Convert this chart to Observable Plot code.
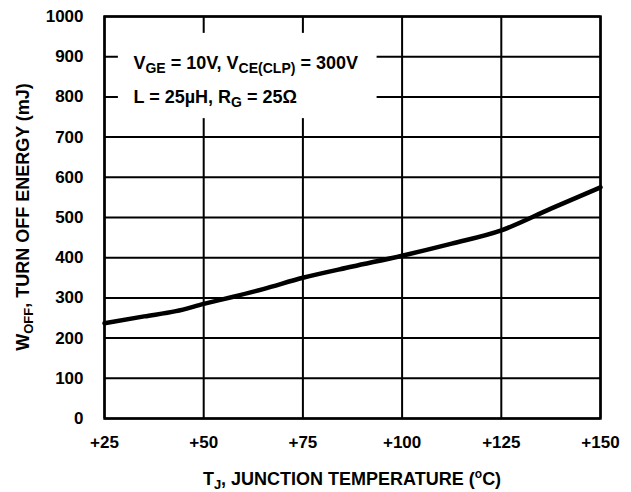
<!DOCTYPE html>
<html>
<head>
<meta charset="utf-8">
<script src="https://cdn.jsdelivr.net/npm/d3@7"></script>
<script src="https://cdn.jsdelivr.net/npm/@observablehq/plot@0.6"></script>
<style>
  html, body { margin: 0; padding: 0; background: #fff; }
</style>
</head>
<body>
<div id="chart"></div>
<script>
// Junction temperature (°C)
const temps = [25, 35, 43, 50, 57.5, 65, 75, 87.5, 100, 112.5, 125, 137.5, 150];
// Turn-off energy (mJ)
const energy = [237, 254, 267, 285, 303, 322, 350, 378, 405, 435, 468, 522, 575];

const xTicks = [25, 50, 75, 100, 125, 150];
const yTicks = [0, 100, 200, 300, 400, 500, 600, 700, 800, 900, 1000];

const xTitle = "TJ, JUNCTION TEMPERATURE (oC)";
const yTitle = "WOFF, TURN OFF ENERGY (mJ)";
const annLines = ["VGE = 10V, VCE(CLP) = 300V", "L = 25µH, RG = 25Ω"];
// annotation box & text anchors in data units
const annBox = [{x1: 28.5, x2: 93.7, y1: 746, y2: 958}];
const annText = [
  {x: 32.3, y: 884, t: annLines[0]},
  {x: 32.3, y: 800, t: annLines[1]}
];

const data = temps.map((t, i) => ({t, e: energy[i]}));

const W = 631, H = 492, mL = 104, mR = 31, mT = 16, mB = 74;

const plot = Plot.plot({
  width: W,
  height: H,
  marginLeft: mL,
  marginRight: mR,
  marginTop: mT,
  marginBottom: mB,
  style: {fontFamily: "'Liberation Sans', Arial, sans-serif", fontWeight: "bold", fontSize: "17px", color: "#000", background: "#fff"},
  x: {domain: [25, 150], label: null},
  y: {domain: [0, 1000], label: null},
  marks: [
    Plot.gridX(xTicks, {stroke: "#000", strokeOpacity: 1, strokeWidth: 2}),
    Plot.gridY(yTicks, {stroke: "#000", strokeOpacity: 1, strokeWidth: 2}),
    Plot.rect(annBox, {x1: "x1", x2: "x2", y1: "y1", y2: "y2", fill: "#fff"}),
    Plot.line(data, {x: "t", y: "e", stroke: "#000", strokeWidth: 4.5, curve: "monotone-x"}),
    Plot.text(annText, {x: "x", y: "y", text: "t", textAnchor: "start", fontSize: 18, fill: "#000", className: "ann"}),
    Plot.axisX({ticks: xTicks, tickSize: 0, tickPadding: 17, tickFormat: d => "+" + d, label: null}),
    Plot.axisY({ticks: yTicks, tickSize: 0, tickPadding: 21, tickFormat: d => String(d), label: null}),
    Plot.frame({stroke: "#000", strokeWidth: 2.5})
  ]
});

document.getElementById("chart").appendChild(plot);

const svg = d3.select(plot);
// rich text with subscripts / superscripts
const sub = (s, fs, d) => `<tspan dy="${d}" font-size="${fs}">${s}</tspan>`;
const annHtml = [
  `V${sub("GE", 14, 4)}<tspan dy="-4"> = 10V, V</tspan>${sub("CE(CLP)", 14, 4)}<tspan dy="-4"> = 300V</tspan>`,
  `L = 25µH, R${sub("G", 14, 4)}<tspan dy="-4"> = 25Ω</tspan>`
];
svg.selectAll(".ann text").each(function(d, i) { this.innerHTML = annHtml[i]; });

// axis titles
const font = "'Liberation Sans', Arial, sans-serif";
svg.append("text")
  .attr("x", (mL + W - mR) / 2).attr("y", 485)
  .attr("text-anchor", "middle").attr("font-family", font).attr("font-weight", "bold")
  .attr("font-size", 18).attr("fill", "#000")
  .html(`T${sub("J", 13, 4)}<tspan dy="-4">, JUNCTION TEMPERATURE (</tspan>${sub("o", 12, -7)}<tspan dy="7">C)</tspan>`);
svg.append("text")
  .attr("transform", `translate(29, ${(mT + H - mB) / 2}) rotate(-90)`)
  .attr("text-anchor", "middle").attr("font-family", font).attr("font-weight", "bold")
  .attr("font-size", 18).attr("fill", "#000")
  .html(`W${sub("OFF", 13, 4)}<tspan dy="-4">, TURN OFF ENERGY (mJ)</tspan>`);
</script>
</body>
</html>
